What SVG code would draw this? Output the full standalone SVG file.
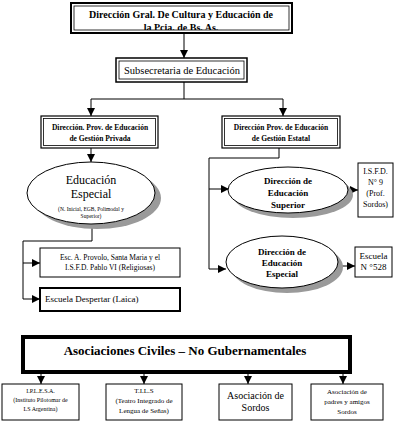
<svg xmlns="http://www.w3.org/2000/svg" width="403" height="422" viewBox="0 0 403 422">
<style>
text{font-family:"Liberation Serif","Times New Roman","DejaVu Serif",serif;fill:#000;text-anchor:middle}
.b{font-weight:bold}
.box{fill:#fff;stroke:#000;stroke-width:1}
.in{fill:none;stroke:#000;stroke-width:0.8}
.ln{fill:none;stroke:#000;stroke-width:1}
.sh{fill:#9a9a9a}
.ell{fill:#fff;stroke:#000;stroke-width:1}
</style>
<defs>
<marker id="ah" viewBox="0 0 10 10" refX="10" refY="5" markerWidth="8" markerHeight="8" markerUnits="userSpaceOnUse" orient="auto">
<path d="M0,0 L10,5 L0,10 z" fill="#000"/>
</marker>
<clipPath id="c1"><rect x="72" y="4" width="219" height="26"/></clipPath>
</defs>
<rect width="403" height="422" fill="#fff"/>

<g id="connectors">
<line class="ln" x1="184" y1="33" x2="184" y2="58" marker-end="url(#ah)"/>
<polyline class="ln" points="184,82 184,99"/>
<polyline class="ln" points="91,99 283,99"/>
<line class="ln" x1="91" y1="99" x2="91" y2="116" marker-end="url(#ah)"/>
<line class="ln" x1="283" y1="99" x2="283" y2="116" marker-end="url(#ah)"/>
<line class="ln" x1="91" y1="148" x2="91" y2="162" marker-end="url(#ah)"/>
<polyline class="ln" points="92,225 92,241 23,241 23,299"/>
<line class="ln" x1="23" y1="263" x2="40" y2="263" marker-end="url(#ah)"/>
<line class="ln" x1="23" y1="299" x2="40" y2="299" marker-end="url(#ah)"/>
<polyline class="ln" points="279,148 279,158 209,158 209,269"/>
<line class="ln" x1="209" y1="189" x2="229" y2="189" marker-end="url(#ah)"/>
<line class="ln" x1="209" y1="269" x2="226" y2="269" marker-end="url(#ah)"/>
<line class="ln" x1="348" y1="190" x2="358" y2="190" marker-end="url(#ah)"/>
<line class="ln" x1="337" y1="266" x2="355" y2="266" marker-end="url(#ah)"/>
<line class="ln" x1="41" y1="373" x2="41" y2="384" marker-end="url(#ah)"/>
<line class="ln" x1="144" y1="373" x2="144" y2="384" marker-end="url(#ah)"/>
<line class="ln" x1="248" y1="373" x2="248" y2="384" marker-end="url(#ah)"/>
<line class="ln" x1="343" y1="373" x2="343" y2="384" marker-end="url(#ah)"/>
</g>

<g id="n-direccion-gral">
<rect x="71" y="3" width="221" height="30" fill="#fff" stroke="#000" stroke-width="2"/>
<rect class="in" x="74" y="6" width="215" height="24"/>
<g clip-path="url(#c1)">
<text class="b" x="181" y="18" font-size="10">Dirección Gral. De Cultura y Educación de</text>
<text class="b" x="181" y="31" font-size="10">la Pcia. de Bs. As.</text>
</g>
</g>

<g id="n-subsecretaria">
<rect x="116" y="58" width="131" height="24" fill="#fff" stroke="#000" stroke-width="1.5"/>
<rect class="in" x="119" y="61" width="125" height="18"/>
<text x="182" y="74" font-size="10.5">Subsecretaria de Educación</text>
</g>

<g id="n-gestion-privada">
<rect x="41" y="116" width="117" height="32" fill="#fff" stroke="#000" stroke-width="1.2"/>
<rect class="in" x="43.5" y="118.5" width="112" height="27"/>
<text class="b" x="100" y="130" font-size="7.5">Dirección. Prov. de Educación</text>
<text class="b" x="100" y="141" font-size="7.5">de Gestión  Privada</text>
</g>

<g id="n-gestion-estatal">
<rect x="222" y="116" width="118" height="32" fill="#fff" stroke="#000" stroke-width="1.2"/>
<rect class="in" x="224.5" y="118.5" width="113" height="27"/>
<text class="b" x="281" y="130" font-size="7.5">Dirección Prov. de Educación</text>
<text class="b" x="281" y="141" font-size="7.5">de Gestión Estatal</text>
</g>

<g id="n-educacion-especial">
<ellipse class="sh" cx="97" cy="198" rx="64" ry="31"/>
<ellipse class="ell" cx="91" cy="193" rx="64" ry="31"/>
<text x="91" y="184" font-size="12">Educación</text>
<text x="91" y="198" font-size="12">Especial</text>
<text x="91" y="211" font-size="5.5">(N. Inicial, EGB, Polimodal y</text>
<text x="91" y="218" font-size="5.5">Superior)</text>
</g>

<g id="n-provolo">
<rect class="box" x="40" y="248" width="140" height="29"/>
<text x="110" y="260" font-size="7.5">Esc. A. Provolo, Santa Maria y el</text>
<text x="110" y="270" font-size="7.5">I.S.F.D. Pablo VI (Religiosas)</text>
</g>

<g id="n-despertar">
<rect x="40" y="288" width="140" height="23" fill="#fff" stroke="#000" stroke-width="2"/>
<text x="45" y="302" font-size="9" style="text-anchor:start">Escuela Despertar  (Laica)</text>
</g>

<g id="n-educacion-superior">
<ellipse class="sh" cx="293" cy="195" rx="60" ry="23"/>
<ellipse class="ell" cx="288" cy="190" rx="60" ry="23"/>
<text class="b" x="288" y="184" font-size="9">Dirección de</text>
<text class="b" x="288" y="196" font-size="9">Educación</text>
<text class="b" x="288" y="208" font-size="9">Superior</text>
</g>

<g id="n-isfd9">
<rect class="box" x="358" y="163" width="35" height="54"/>
<text x="375.5" y="174" font-size="8">I.S.F.D.</text>
<text x="375.5" y="185" font-size="8">N° 9</text>
<text x="375.5" y="196" font-size="8">(Prof.</text>
<text x="375.5" y="207" font-size="8">Sordos)</text>
</g>

<g id="n-educacion-especial-estatal">
<ellipse class="sh" cx="287" cy="267" rx="56" ry="26"/>
<ellipse class="ell" cx="282" cy="262" rx="56" ry="26"/>
<text class="b" x="282" y="255" font-size="9">Dirección de</text>
<text class="b" x="282" y="266" font-size="9">Educación</text>
<text class="b" x="282" y="277" font-size="9">Especial</text>
</g>

<g id="n-escuela528">
<rect class="box" x="355" y="247" width="37" height="30"/>
<text x="373.5" y="259" font-size="9">Escuela</text>
<text x="373.5" y="270" font-size="9">N °528</text>
</g>

<g id="n-asociaciones">
<rect x="23" y="337" width="327" height="35" fill="#fff" stroke="#000" stroke-width="4"/>
<text class="b" x="185" y="355" font-size="13">Asociaciones Civiles – No Gubernamentales</text>
</g>

<g id="n-iplesa">
<rect class="box" x="2" y="384" width="77" height="36"/>
<text x="40.5" y="393" font-size="6">I.P.L.E.S.A.</text>
<text x="40.5" y="402" font-size="6">(Instituto Pilotomar de</text>
<text x="40.5" y="411" font-size="6">LS Argentina)</text>
</g>

<g id="n-tils">
<rect class="box" x="106" y="384" width="76" height="36"/>
<text x="144" y="393" font-size="7">T.I.L.S</text>
<text x="144" y="403" font-size="7">(Teatro Integrado de</text>
<text x="144" y="413" font-size="7">Lengua de Señas)</text>
</g>

<g id="n-sordos">
<rect class="box" x="219" y="384" width="73" height="36"/>
<text x="255.5" y="399" font-size="10">Asociación de</text>
<text x="255.5" y="411" font-size="10">Sordos</text>
</g>

<g id="n-padres">
<rect class="box" x="311" y="384" width="72" height="36"/>
<text x="347" y="394" font-size="7">Asociación de</text>
<text x="347" y="404" font-size="7">padres y amigos</text>
<text x="347" y="414" font-size="7">Sordos</text>
</g>
</svg>
